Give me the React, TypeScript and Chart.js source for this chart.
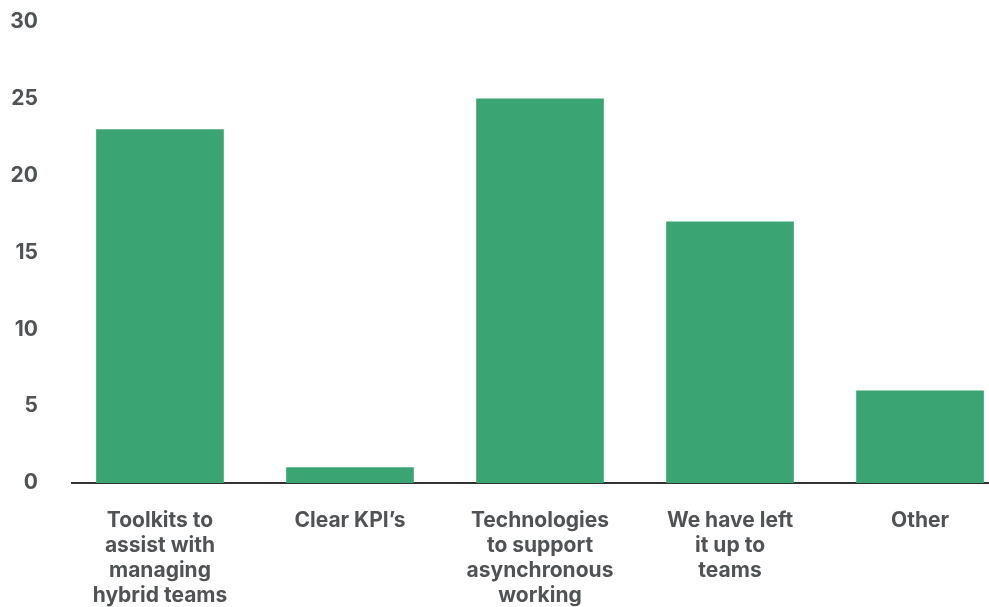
import React, { useEffect, useRef } from "react";
import { Chart, registerables } from "chart.js";

Chart.register(...registerables);

const categories: string[][] = [
  ["Toolkits to", "assist with", "managing", "hybrid teams"],
  ["Clear KPI’s"],
  ["Technologies", "to support", "asynchronous", "working"],
  ["We have left", "it up to", "teams"],
  ["Other"],
];
const values: number[] = [23, 1, 25, 17, 6];
const yTicks: number[] = [0, 5, 10, 15, 20, 25, 30];

const BAR_COLOR = "#3aa573";
const TEXT_COLOR = "#505355";
const FONT = "Inter";

export default function App() {
  const ref = useRef<HTMLCanvasElement | null>(null);

  useEffect(() => {
    if (!ref.current) return;
    const chart = new Chart(ref.current, {
      type: "bar",
      data: {
        datasets: [
          {
            data: values.map((v, i) => ({ x: i, y: v })),
            backgroundColor: BAR_COLOR,
            borderWidth: 0,
            barThickness: 127,
          },
        ],
      },
      options: {
        animation: false,
        responsive: true,
        maintainAspectRatio: false,
        layout: { padding: { top: 22, left: 0, right: 0, bottom: 0 } },
        plugins: { legend: { display: false }, tooltip: { enabled: false } },
        scales: {
          x: {
            type: "linear",
            offset: false,
            min: -0.463,
            max: 4.363,
            grid: { display: false, drawTicks: false },
            border: { display: true, color: "#333333", width: 2 },
            afterBuildTicks: (scale: any) => {
              scale.ticks = categories.map((_, i) => ({ value: i }));
            },
            afterFit: (scale: any) => {
              scale.height = 124;
              scale.paddingLeft = 0;
              scale.paddingRight = 0;
              scale.paddingTop = 0;
              scale.paddingBottom = 0;
            },
            ticks: {
              autoSkip: false,
              maxRotation: 0,
              minRotation: 0,
              padding: 25,
              color: TEXT_COLOR,
              font: { family: FONT, size: 21, weight: "bold", lineHeight: 1.19 },
              callback: (value: any) => categories[value as number] ?? "",
            },
          },
          y: {
            min: 0,
            max: 30,
            grid: { display: false, drawTicks: false },
            border: { display: false },
            afterBuildTicks: (scale: any) => {
              scale.ticks = yTicks.map((v) => ({ value: v }));
            },
            afterFit: (scale: any) => {
              scale.width = 72;
              scale.paddingTop = 0;
              scale.paddingBottom = 0;
            },
            ticks: {
              padding: 34,
              color: TEXT_COLOR,
              font: { family: FONT, size: 21, weight: "bold" },
            },
          },
        },
      },
    });
    return () => chart.destroy();
  }, []);

  return (
    <div style={{ position: "fixed", left: 0, top: 0, width: 989, height: 607, background: "#fff" }}>
      <canvas ref={ref} />
    </div>
  );
}
